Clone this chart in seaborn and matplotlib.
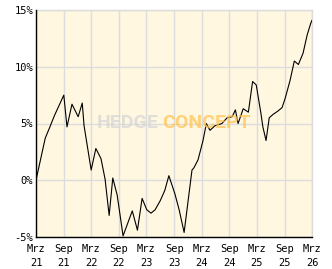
import matplotlib
matplotlib.use("Agg")
import matplotlib.pyplot as plt
from matplotlib.ticker import MultipleLocator
import seaborn as sns
import pandas as pd

# ---- data ----
dates = [
    "2021-03-01", "2021-05-01", "2021-06-01", "2021-07-01", "2021-09-01",
    "2021-09-22", "2021-10-25", "2021-12-05", "2022-01-01", "2022-01-13",
    "2022-03-01", "2022-04-01", "2022-05-05", "2022-06-01", "2022-06-28",
    "2022-07-22", "2022-08-20", "2022-09-28", "2022-11-28", "2023-01-01",
    "2023-02-01", "2023-03-04", "2023-04-01", "2023-04-28", "2023-06-01",
    "2023-07-01", "2023-07-28", "2023-09-06", "2023-10-04", "2023-11-06",
    "2023-12-28", "2024-01-10", "2024-02-06", "2024-03-10", "2024-04-01",
    "2024-04-25", "2024-05-28", "2024-07-13", "2024-08-16", "2024-09-19",
    "2024-10-10", "2024-10-28", "2024-12-01", "2025-01-04", "2025-02-01",
    "2025-02-25", "2025-03-28", "2025-04-10", "2025-05-01", "2025-05-22",
    "2025-06-16", "2025-07-19", "2025-08-15", "2025-09-04", "2025-10-07",
    "2025-11-04", "2025-12-01", "2026-01-01", "2026-01-28", "2026-02-20",
    "2026-03-01",
]
values = [
    0.0, 3.7, 4.7, 5.7, 7.5,
    4.7, 6.7, 5.6, 6.8, 4.8,
    0.9, 2.8, 1.9, 0.1, -3.1,
    0.2, -1.3, -4.9, -2.7, -4.4,
    -1.6, -2.6, -2.9, -2.6, -1.8,
    -0.9, 0.4, -1.2, -2.6, -4.6,
    0.9, 1.1, 1.8, 3.5, 5.0,
    4.4, 4.8, 5.0, 5.5, 5.6,
    6.2, 5.0, 6.3, 6.0, 8.7,
    8.4, 5.9, 4.7, 3.5, 5.5,
    5.8, 6.1, 6.4, 7.2, 8.8,
    10.5, 10.2, 11.2, 12.8, 13.8,
    14.1,
]
tick_dates = ["2021-03-01", "2021-09-01", "2022-03-01", "2022-09-01",
              "2023-03-01", "2023-09-01", "2024-03-01", "2024-09-01",
              "2025-03-01", "2025-09-01", "2026-03-01"]
tick_labels = ["Mrz\n21", "Sep\n21", "Mrz\n22", "Sep\n22", "Mrz\n23",
               "Sep\n23", "Mrz\n24", "Sep\n24", "Mrz\n25", "Sep\n25",
               "Mrz\n26"]
y_ticks = [-5, 0, 5, 10, 15]

df = pd.DataFrame({"date": pd.to_datetime(dates), "value": values})

sns.set_style("white")
plt.rcParams["font.family"] = ["DejaVu Sans Mono", "DejaVu Sans"]

W, H = 332, 269
fig = plt.figure(figsize=(W / 100, H / 100), dpi=100)
fig.patch.set_facecolor("white")
ax = fig.add_axes([36 / W, 1 - 237 / H, (312 - 36) / W, (237 - 10) / H])
ax.set_facecolor("#fff7e0")

sns.lineplot(data=df, x="date", y="value", ax=ax, color="black",
             linewidth=0.8, zorder=3)

tk = pd.to_datetime(tick_dates)
ax.set_xlim(tk[0], tk[-1])
ax.set_ylim(-5, 15)
ax.set_xticks(tk)
ax.set_xticklabels(tick_labels, linespacing=1.55)
ax.set_yticks(y_ticks)
ax.set_yticklabels([f"{v}%" for v in y_ticks])
ax.yaxis.set_minor_locator(MultipleLocator(1))

ax.grid(True, which="major", color="#dcdcdc", linewidth=1.0, zorder=0)
ax.set_axisbelow(True)

ax.tick_params(axis="x", which="major", direction="in", length=3, width=1,
               color="black", labelsize=7.5, pad=5, labelcolor="black")
ax.tick_params(axis="y", which="both", direction="in", length=4, width=1,
               color="black", labelsize=7.5, pad=2, labelcolor="black")

for side in ["top", "right"]:
    ax.spines[side].set_color("#dcdcdc")
    ax.spines[side].set_linewidth(1.0)
for side in ["left", "bottom"]:
    ax.spines[side].set_color("black")
    ax.spines[side].set_linewidth(1.0)
    ax.spines[side].set_zorder(5)

ax.set_xlabel("")
ax.set_ylabel("")

# watermark
wm_y = 1 - 123 / H
fig.text(159 / W, wm_y, "HEDGE", ha="right", va="center", fontsize=14,
         fontweight="bold", color="#d6d6d6", alpha=0.75,
         family=["Roboto", "DejaVu Sans"], zorder=10)
fig.text(162 / W, wm_y, "CONCEPT", ha="left", va="center", fontsize=14,
         fontweight="bold", color="#ffc250", alpha=0.7,
         family=["Roboto", "DejaVu Sans"], zorder=10)

fig.savefig("out.png", dpi=100, facecolor="white")
